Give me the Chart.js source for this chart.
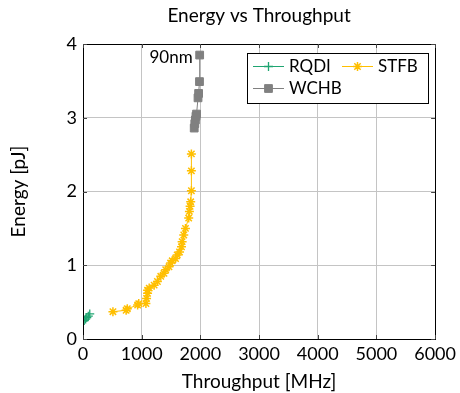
<!DOCTYPE html>
<html><head><meta charset="utf-8">
<script src="https://cdn.jsdelivr.net/npm/chart.js@4/dist/chart.umd.min.js"></script>
<style>html,body{margin:0;padding:0;background:#fff}#wrap{width:460px;height:393px}</style>
</head><body><div id="wrap"><canvas id="c" width="460" height="393"></canvas></div>
<script>
const chartTitle = "Energy vs Throughput";
const xTitle = "Throughput [MHz]";
const yTitle = "Energy [pJ]";
const xTicks = [0, 1000, 2000, 3000, 4000, 5000, 6000];
const yTicks = [0, 1, 2, 3, 4];
const seriesNames = ["RQDI", "STFB", "WCHB"];
const rqdiX = [20, 45, 65, 90, 115];
const rqdiY = [0.25, 0.27, 0.29, 0.31, 0.34];
const stfbX = [510, 735, 755, 931, 950, 1072, 1083, 1100, 1100, 1128, 1212, 1268, 1325, 1380, 1409, 1465, 1493, 1520, 1577, 1605, 1645, 1678, 1689, 1717, 1746, 1801, 1813, 1825, 1835, 1847, 1847, 1847];
const stfbY = [0.37, 0.39, 0.41, 0.46, 0.48, 0.48, 0.55, 0.62, 0.66, 0.69, 0.73, 0.78, 0.85, 0.89, 0.94, 0.98, 1.03, 1.06, 1.09, 1.14, 1.18, 1.25, 1.32, 1.41, 1.50, 1.64, 1.73, 1.80, 1.86, 2.01, 2.28, 2.51];
const wchbX = [1895, 1905, 1915, 1925, 1935, 1960, 1970, 1985, 1988];
const wchbY = [2.86, 2.92, 2.97, 3.02, 3.05, 3.27, 3.33, 3.49, 3.85];
const annotationText = "90nm";
const annotationAt = [1988, 3.85];

const FONT = "Lato";
function pts(xs, ys){ return xs.map((x,i)=>({x:x, y:ys[i]})); }
const colors = ["#1fa571", "#ffbf00", "#808080"];
const styles = ["cross", "star", "rect"];
const radii = [4.5, 4.5, 5.5];
const pointWidths = [1.3, 1.5, 1];

const boxPlugin = {
  id: 'box',
  afterDraw(chart){
    const ctx = chart.ctx, a = chart.chartArea;
    const xs = chart.scales.x, ys = chart.scales.y;
    ctx.save();
    ctx.fillStyle = '#000'; ctx.font = '19px ' + FONT; ctx.textAlign = 'center'; ctx.textBaseline = 'middle';
    ctx.fillText(chartTitle, (a.left + a.right) / 2, 16);
    ctx.strokeStyle = '#000'; ctx.lineWidth = 1;
    ctx.strokeRect(Math.round(a.left)+0.5, Math.round(a.top)+0.5, Math.round(a.right-a.left), Math.round(a.bottom-a.top));
    ctx.strokeStyle = '#444';
    xTicks.forEach(v=>{ const p = Math.round(xs.getPixelForValue(v))+0.5;
      ctx.beginPath(); ctx.moveTo(p, a.bottom); ctx.lineTo(p, a.bottom-4); ctx.moveTo(p, a.top); ctx.lineTo(p, a.top+4); ctx.stroke(); });
    yTicks.forEach(v=>{ const p = Math.round(ys.getPixelForValue(v))+0.5;
      ctx.beginPath(); ctx.moveTo(a.left, p); ctx.lineTo(a.left+4, p); ctx.moveTo(a.right, p); ctx.lineTo(a.right-4, p); ctx.stroke(); });
    ctx.fillStyle = '#000'; ctx.font = '17px ' + FONT; ctx.textAlign = 'right'; ctx.textBaseline = 'middle';
    ctx.fillText(annotationText, xs.getPixelForValue(annotationAt[0]) - 7, ys.getPixelForValue(annotationAt[1]) + 2);
    const L = 247, T = 53, W = 181, H = 50;
    ctx.fillStyle = '#fff'; ctx.fillRect(L, T, W, H);
    ctx.strokeStyle = '#000'; ctx.strokeRect(L+0.5, T+0.5, W, H);
    const pos = [[253, 66], [342, 66], [253, 88]];
    chart.data.datasets.forEach((ds, i)=>{
      const [lx, ly] = pos[i];
      ctx.strokeStyle = ds.borderColor; ctx.fillStyle = ds.borderColor; ctx.lineWidth = 1;
      ctx.beginPath(); ctx.moveTo(lx, ly+0.5); ctx.lineTo(lx+31, ly+0.5); ctx.stroke();
      ctx.lineWidth = ds.pointBorderWidth;
      Chart.helpers.drawPoint(ctx, {pointStyle: ds.pointStyle, radius: ds.pointRadius, borderWidth: ds.pointBorderWidth, rotation: 0}, lx+15.5, ly+0.5);
      ctx.fillStyle = '#000'; ctx.textAlign = 'left'; ctx.textBaseline = 'middle';
      ctx.fillText(ds.label, lx+36, ly+1);
    });
    ctx.restore();
  }
};

new Chart(document.getElementById('c'), {
  type: 'scatter',
  data: { datasets: [0,1,2].map(i=>({
    label: seriesNames[i],
    data: pts([rqdiX, stfbX, wchbX][i], [rqdiY, stfbY, wchbY][i]),
    showLine: true,
    borderColor: colors[i],
    backgroundColor: colors[i],
    pointBackgroundColor: colors[i],
    pointBorderColor: colors[i],
    borderWidth: 1,
    pointStyle: styles[i],
    pointRadius: radii[i],
    pointBorderWidth: pointWidths[i]
  }))},
  options: {
    responsive: false, animation: false, devicePixelRatio: 1,
    layout: { padding: { left: 0, right: 21, top: 44, bottom: 0 } },
    plugins: {
      legend: { display: false },
      tooltip: { enabled: false },
      title: { display: false }
    },
    scales: {
      x: { type: 'linear', min: 0, max: 6000,
        afterBuildTicks(s){ s.ticks = xTicks.map(v=>({value:v})); },
        afterFit(s){ s.height = 54; },
        grid: { color: '#c4c4c4', drawTicks: false, lineWidth: 1 },
        border: { display: false },
        ticks: { color: '#000', padding: 4, maxRotation: 0, font: { family: FONT, size: 18 }, callback: v => String(v) },
        title: { display: true, text: xTitle, color: '#000', font: { family: FONT, size: 19 }, padding: { top: 2, bottom: 0 } } },
      y: { type: 'linear', min: 0, max: 4,
        afterBuildTicks(s){ s.ticks = yTicks.map(v=>({value:v})); },
        afterFit(s){ s.width = 83; },
        grid: { color: '#c4c4c4', drawTicks: false, lineWidth: 1 },
        border: { display: false },
        ticks: { color: '#000', padding: 6, font: { family: FONT, size: 18 }, callback: v => String(v) },
        title: { display: true, text: yTitle, color: '#000', font: { family: FONT, size: 19 }, padding: { top: 7, bottom: 0 } } }
    }
  },
  plugins: [boxPlugin]
});
</script></body></html>
